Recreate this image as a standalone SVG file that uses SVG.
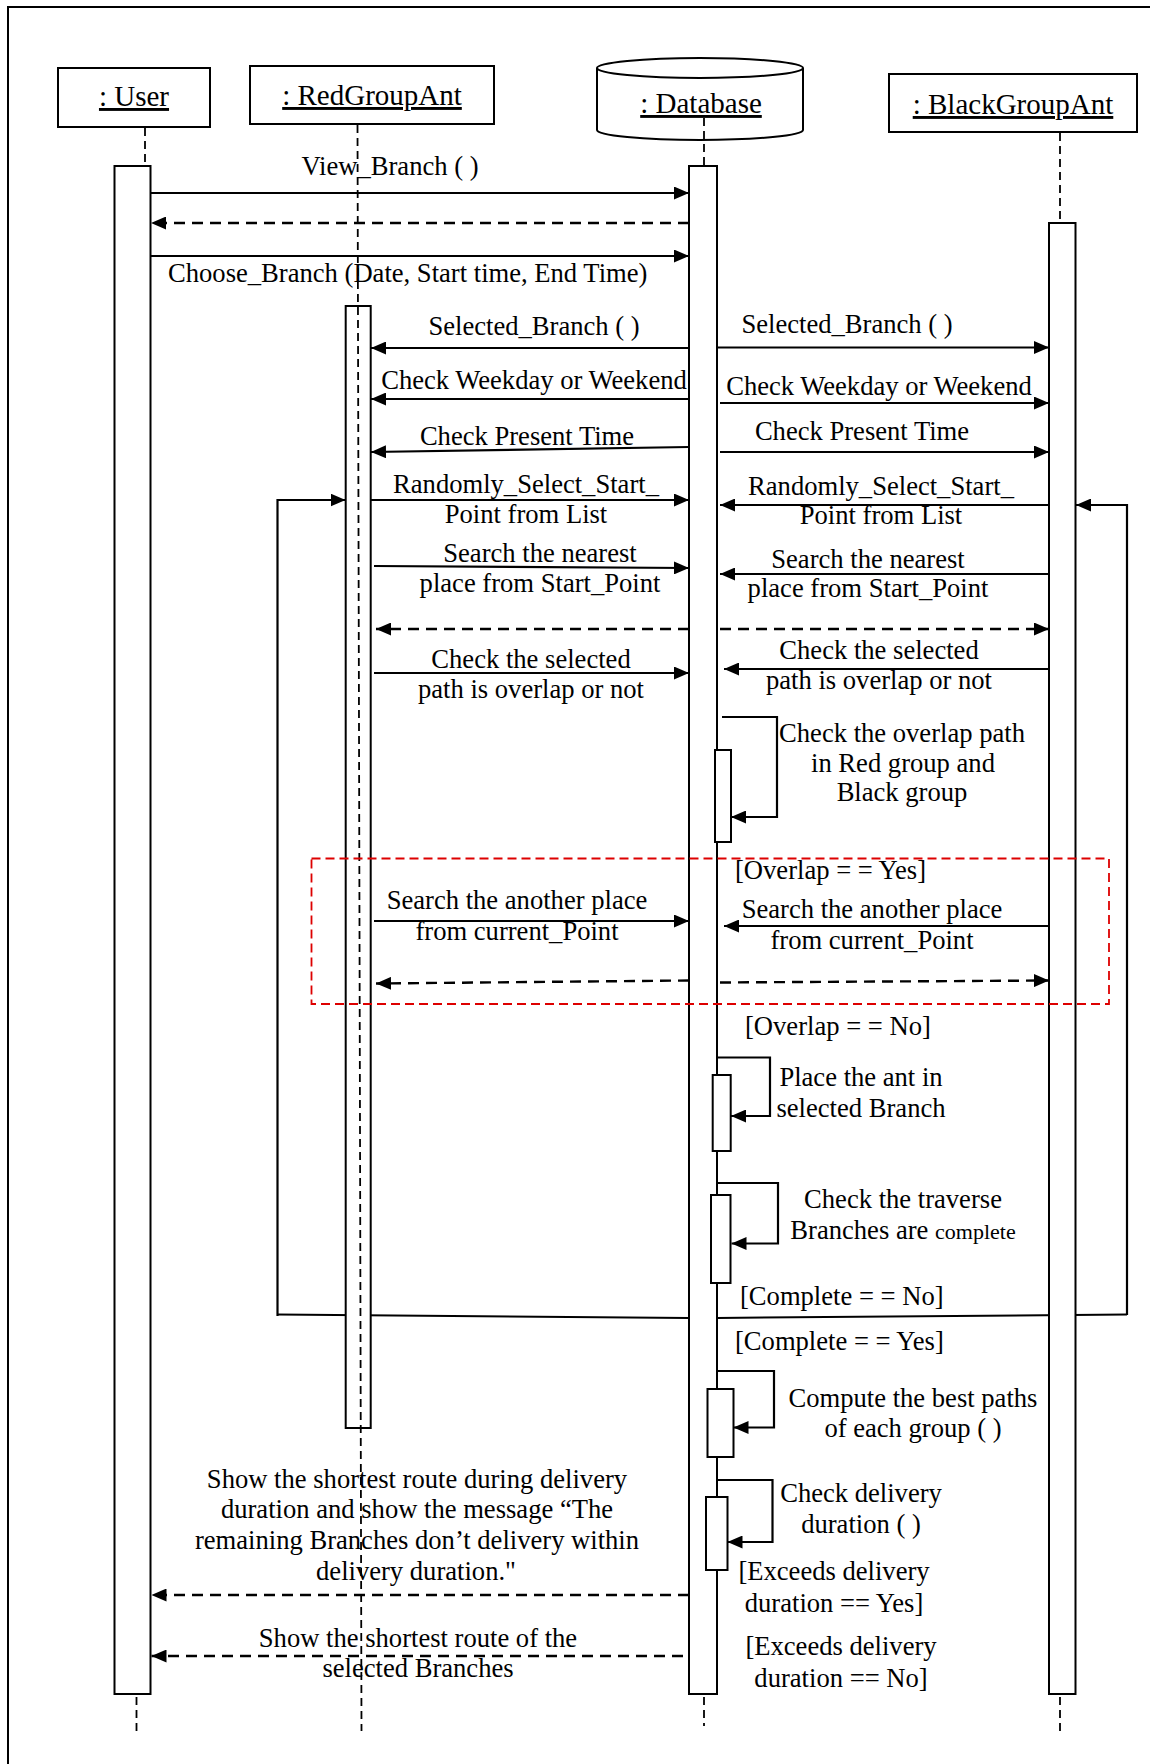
<svg xmlns="http://www.w3.org/2000/svg" width="1150" height="1764" viewBox="0 0 1150 1764">
<style>
text{font-family:"Liberation Serif","Times New Roman",serif;font-size:26.6px;fill:#000}
.hdr{font-size:29px;text-decoration:underline}
.c{text-anchor:middle}
.box{fill:#fff;stroke:#000;stroke-width:2}
.act{fill:#fff;stroke:#000;stroke-width:2}
.life{stroke:#000;stroke-width:1.8;stroke-dasharray:8 5;fill:none}
.msg{stroke:#000;stroke-width:2.2;fill:none;marker-end:url(#ah)}
.ret{stroke:#000;stroke-width:2.4;stroke-dasharray:11 7;fill:none;marker-end:url(#ah)}
.ln{stroke:#000;stroke-width:2;fill:none}
.frag{fill:none;stroke:#dd0000;stroke-width:1.8;stroke-dasharray:9 5}
</style>
<defs>
<marker id="ah" viewBox="0 0 15 13" refX="15" refY="6.5" markerWidth="15" markerHeight="13" markerUnits="userSpaceOnUse" orient="auto">
<path d="M0,0 L15,6.5 L0,13 z" fill="#000"/>
</marker>
</defs>
<rect x="8" y="7" width="1200" height="1820" fill="#fff" stroke="#000" stroke-width="2"/>

<g id="connectors">
<line class="msg" x1="150" y1="193" x2="689" y2="193"/>
<text class="c" x="390" y="175">View_Branch ( )</text>
<line class="ret" x1="689" y1="223" x2="151" y2="223"/>
<line class="msg" x1="150" y1="256" x2="689" y2="256"/>
<text x="168" y="282">Choose_Branch (Date, Start time, End Time)</text>

<line class="msg" x1="689" y1="348" x2="371" y2="348"/>
<text class="c" x="534" y="335">Selected_Branch ( )</text>
<line class="msg" x1="717" y1="347.5" x2="1049" y2="347.5"/>
<text class="c" x="847" y="333">Selected_Branch ( )</text>

<line class="msg" x1="689" y1="399" x2="371" y2="399"/>
<text class="c" x="534" y="389">Check Weekday or Weekend</text>
<line class="msg" x1="720" y1="403" x2="1049" y2="403"/>
<text class="c" x="879" y="395">Check Weekday or Weekend</text>

<line class="msg" x1="689" y1="447" x2="371" y2="452"/>
<text class="c" x="527" y="445">Check Present Time</text>
<line class="msg" x1="720" y1="452" x2="1049" y2="452"/>
<text class="c" x="862" y="440">Check Present Time</text>

<line class="msg" x1="371" y1="500" x2="689" y2="500"/>
<text class="c" x="526" y="493">Randomly_Select_Start_</text>
<text class="c" x="526" y="523">Point from List</text>
<polyline class="msg" points="277.5,1316 277.5,500 345.5,500"/>
<line class="msg" x1="1049" y1="505" x2="720" y2="505"/>
<text class="c" x="881" y="495">Randomly_Select_Start_</text>
<text class="c" x="881" y="524">Point from List</text>
<polyline class="msg" points="1127,1315 1127,505 1076,505"/>

<line class="msg" x1="374" y1="566" x2="689" y2="568"/>
<text class="c" x="540" y="562">Search the nearest</text>
<text class="c" x="540" y="592">place from Start_Point</text>
<line class="msg" x1="1049" y1="574" x2="720" y2="574"/>
<text class="c" x="868" y="568">Search the nearest</text>
<text class="c" x="868" y="597">place from Start_Point</text>

<line class="ret" x1="689" y1="629" x2="376" y2="629"/>
<line class="ret" x1="720" y1="629" x2="1049" y2="629"/>

<line class="msg" x1="374" y1="673" x2="689" y2="673"/>
<text class="c" x="531" y="668">Check the selected</text>
<text class="c" x="531" y="698">path is overlap or not</text>
<line class="msg" x1="1049" y1="669" x2="724" y2="669"/>
<text class="c" x="879" y="659">Check the selected</text>
<text class="c" x="879" y="689">path is overlap or not</text>

<polyline class="msg" points="722,717 777,717 777,817 731,817"/>
<text class="c" x="902" y="742">Check the overlap path</text>
<text class="c" x="903" y="772">in Red group and</text>
<text class="c" x="902" y="801">Black group</text>

<text x="735" y="879">[Overlap = = Yes]</text>
<line class="msg" x1="374" y1="921" x2="689" y2="921"/>
<text class="c" x="517" y="909">Search the another place</text>
<text class="c" x="517" y="940">from current_Point</text>
<line class="msg" x1="1049" y1="926" x2="724" y2="926"/>
<text class="c" x="872" y="918">Search the another place</text>
<text class="c" x="872" y="949">from current_Point</text>
<line class="ret" x1="689" y1="980.5" x2="376" y2="983.5"/>
<line class="ret" x1="720" y1="982.5" x2="1049" y2="980.5"/>

<text x="745" y="1035">[Overlap = = No]</text>
<polyline class="msg" points="718,1057.5 770,1057.5 770,1116 731,1116"/>
<text class="c" x="861" y="1086">Place the ant in</text>
<text class="c" x="861" y="1117">selected Branch</text>

<polyline class="msg" points="718,1183 778,1183 778,1243.5 731.5,1243.5"/>
<text class="c" x="903" y="1208">Check the traverse</text>
<text class="c" x="903" y="1239">Branches are <tspan font-size="22">complete</tspan></text>

<text x="740" y="1305">[Complete = = No]</text>
<line class="ln" x1="277.5" y1="1314.5" x2="689" y2="1318"/>
<line class="ln" x1="717" y1="1318" x2="1127" y2="1314.5"/>

<text x="735" y="1350">[Complete = = Yes]</text>
<polyline class="msg" points="717,1371 774,1371 774,1427.5 733.5,1427.5"/>
<text class="c" x="913" y="1407">Compute the best paths</text>
<text class="c" x="913" y="1437">of each group ( )</text>

<polyline class="msg" points="717,1480 772.5,1480 772.5,1542 727.5,1542"/>
<text class="c" x="861" y="1502">Check delivery</text>
<text class="c" x="861" y="1533">duration ( )</text>

<text class="c" x="834" y="1580">[Exceeds delivery</text>
<text class="c" x="834" y="1612">duration == Yes]</text>
<text class="c" x="841" y="1655">[Exceeds delivery</text>
<text class="c" x="841" y="1687">duration == No]</text>

<text class="c" x="417" y="1488">Show the shortest route during delivery</text>
<text class="c" x="417" y="1518">duration and show the message “The</text>
<text class="c" x="417" y="1549">remaining Branches don’t delivery within</text>
<text class="c" x="416" y="1580">delivery duration."</text>
<line class="ret" x1="689" y1="1595" x2="151.5" y2="1595"/>
<text class="c" x="418" y="1647">Show the shortest route of the</text>
<line class="ret" x1="683" y1="1656" x2="151.5" y2="1656"/>
<text class="c" x="418" y="1677">selected Branches</text>
</g>

<g id="user">
<rect class="box" x="58" y="68" width="152" height="59"/>
<text class="hdr c" x="134" y="106">: User</text>
<line class="life" x1="145" y1="128" x2="145" y2="166"/>
<rect class="act" x="114.5" y="166" width="36" height="1528"/>
<line class="life" x1="136.5" y1="1697" x2="136.5" y2="1731"/>
</g>

<g id="redgroupant">
<rect class="box" x="250" y="66" width="244" height="58"/>
<text class="hdr c" x="372" y="105">: RedGroupAnt</text>
<rect class="act" x="345.7" y="306" width="25" height="1122"/>
<line class="life" x1="357.5" y1="125" x2="361.5" y2="1731"/>
</g>

<g id="database">
<path class="box" d="M597,68 L597,130 A103,10 0 0 0 803,130 L803,68"/>
<ellipse class="box" cx="700" cy="68" rx="103" ry="10"/>
<text class="hdr c" x="701" y="113">: Database</text>
<line class="life" x1="704" y1="118" x2="704" y2="166"/>
<rect class="act" x="689" y="166" width="28" height="1528"/>
<line class="life" x1="704" y1="1697" x2="704" y2="1726"/>
<rect class="act" x="715" y="750" width="16" height="92"/>
<rect class="act" x="712.7" y="1075" width="18" height="76"/>
<rect class="act" x="711" y="1195" width="19.5" height="88"/>
<rect class="act" x="707.5" y="1389" width="26" height="68"/>
<rect class="act" x="706" y="1497" width="21.5" height="73"/>
</g>

<g id="blackgroupant">
<rect class="box" x="889" y="74" width="248" height="58"/>
<text class="hdr c" x="1013" y="114">: BlackGroupAnt</text>
<line class="life" x1="1060" y1="133" x2="1060" y2="223"/>
<rect class="act" x="1049" y="223" width="26.5" height="1471"/>
<line class="life" x1="1060" y1="1697" x2="1060" y2="1731"/>
</g>

<g id="alt-fragment">
<rect class="frag" x="311.5" y="858.5" width="797.5" height="145.5"/>
</g>
</svg>
